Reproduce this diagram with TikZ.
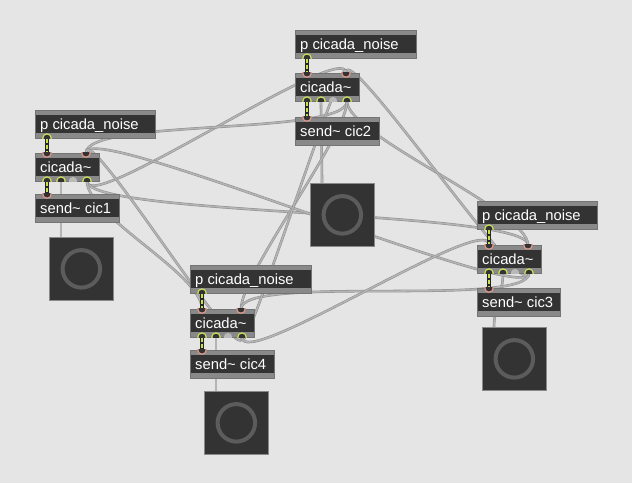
\documentclass[tikz,border=0pt]{standalone}
\usepackage{fontspec}
\setmainfont{Liberation Sans}
\usetikzlibrary{calc}
\definecolor{patchbg}{HTML}{E5E5E5}
\definecolor{objbody}{HTML}{333333}
\definecolor{objband}{HTML}{898989}
\definecolor{cordgray}{HTML}{B4B4B4}
\definecolor{cordedge}{HTML}{8E8E8E}
\definecolor{sigyellow}{HTML}{CFE05A}
\definecolor{siggreen}{HTML}{C4E24C}
\definecolor{inletred}{HTML}{E59A8E}
\definecolor{ringgray}{HTML}{5C5C5C}
\pgfdeclarelayer{bg}
\pgfdeclarelayer{cords}
\pgfsetlayers{bg,cords,main}

\begin{document}
\begin{tikzpicture}[x=0.03cm, y=-0.03cm,
    obj/.style={anchor=north west, fill=objband, draw=objband!85!black, line width=0.4pt,
      minimum height=0.83cm, inner sep=0pt,
      path picture={\fill[objbody] ([yshift=-4.3pt]path picture bounding box.north west)
        rectangle ([yshift=4.3pt]path picture bounding box.south east);}},
    objtext/.style={anchor=base west, text=white, font=\fontsize{12.6}{14}\selectfont, inner sep=0pt},
    dacbox/.style={anchor=north west, fill=objbody, draw=objband, line width=0.6pt,
      minimum width=1.92cm, minimum height=1.89cm, inner sep=0pt},
    cord/.style={draw=cordedge, double=cordgray, line width=0.45pt, double distance=1.3pt},
    sigback/.style={black!85, line width=3.6pt},
    sigfront/.style={siggreen, line width=1.9pt, dash pattern=on 4pt off 1.5pt},
    inlet/.style={draw=inletred, fill=objbody, line width=1pt},
    outlet/.style={draw=sigyellow, fill=objbody, line width=1pt}]
    \pgfmathsetmacro{\portradius}{3.6}

    \begin{pgfonlayer}{bg}
        \fill[patchbg] (0,0) rectangle (632,483);
    \end{pgfonlayer}
    \useasboundingbox (0,0) rectangle (632,483);

    \foreach \i/\nx/\ny/\cy/\sy/\dx/\dy/\nw/\sw in {
        1/35/110/153/194/49/237/120/84,
        2/295/30/73/117/310/183/121/84,
        3/477/201/245/288/482/327/120/83,
        4/190/265/309/350/204/391/121/84}{
        \node[obj, minimum width=\nw*0.03cm] (noise\i) at (\nx,\ny) {};
        \node[objtext] (noise\i-t) at ($(noise\i.west)+(5,5)$) {p cicada\_noise};
        \node[obj, minimum width=1.92cm] (cic\i) at (\nx,\cy) {};
        \node[objtext] (cic\i-t) at ($(cic\i.west)+(5,5)$) {cicada\textasciitilde};
        \node[obj, minimum width=\sw*0.03cm] (send\i) at (\nx,\sy) {};
        \node[objtext] (send\i-t) at ($(send\i.west)+(5,5)$) {send\textasciitilde{} cic\i};
        \node[dacbox] (dac\i) at (\dx,\dy) {};
        \draw[ringgray, line width=3.4pt] (dac\i.center) circle (16pt);

        % signal cords
        \draw[sigback] ($(noise\i.south west)+(12,0)$) -- ($(cic\i.north west)+(12,0)$);
        \draw[sigfront] ($(noise\i.south west)+(12,0)$) -- ($(cic\i.north west)+(12,0)$);
        \draw[sigback] ($(cic\i.south west)+(12,0)$) -- ($(send\i.north west)+(12,0)$);
        \draw[sigfront] ($(cic\i.south west)+(12,0)$) -- ($(send\i.north west)+(12,0)$);

        \begin{scope}
            \clip (noise\i.north west) rectangle (noise\i.south east);
            \draw[outlet] ($(noise\i.south west)+(12,0)$) circle (\portradius pt);
        \end{scope}
        \begin{scope}
            \clip (cic\i.north west) rectangle (cic\i.south east);
            \foreach \o in {12,51}
                \draw[inlet] ($(cic\i.north west)+(\o,0)$) circle (\portradius pt);
            \foreach \o in {12,26,52}
                \draw[outlet] ($(cic\i.south west)+(\o,0)$) circle (\portradius pt);
            \fill[gray!55] ($(cic\i.south west)+(38,0)$) circle (\portradius pt);
        \end{scope}
        \begin{scope}
            \clip (send\i.north west) rectangle (send\i.south east);
            \draw[inlet] ($(send\i.north west)+(12,0)$) circle (\portradius pt);
        \end{scope}
    }

    \begin{pgfonlayer}{cords}
        \foreach \i in {1,...,4}{
            \draw[cord] ($(cic\i.south west)+(26,0)$) .. controls +(0,20) and +(0,-20) .. ($(dac\i.north west)+(12,0)$);
        }
        % cicada~ to cicada~: source / target / inlet offset
        \foreach \i/\j/\k in {1/2/51, 1/3/51, 1/4/12, 2/1/51, 2/3/51, 2/4/51,
                              3/1/51, 3/2/51, 3/4/51, 4/1/51, 4/2/51, 4/3/12}{
            \draw[cord] ($(cic\i.south west)+(52,0)$) .. controls +(0,35) and +(0,-35) .. ($(cic\j.north west)+(\k,0)$);
        }
    \end{pgfonlayer}
\end{tikzpicture}
\end{document}
